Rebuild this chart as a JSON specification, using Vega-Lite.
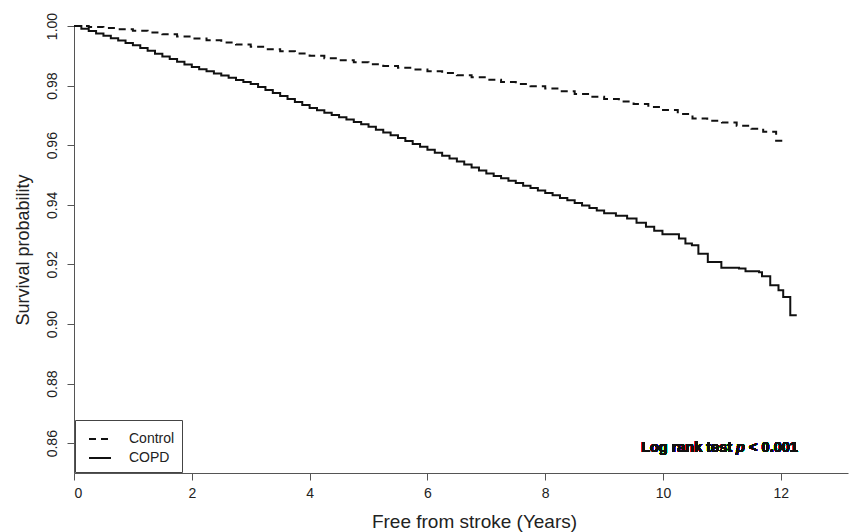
{
  "$schema": "https://vega.github.io/schema/vega-lite/v6.json",
  "autosize": {"type": "none"},
  "padding": {"left": 74, "top": 26, "right": 13, "bottom": 59},
  "width": 774,
  "height": 447,
  "background": "white",
  "config": {
    "view": {"stroke": null},
    "font": "Liberation Sans",
    "axis": {"domainColor": "#555", "tickColor": "#555", "labelColor": "#222", "titleColor": "#222", "grid": false, "labelFont": "Liberation Sans", "titleFont": "Liberation Sans", "titleFontWeight": "normal"}
  },
  "datasets": {
    "surv": [
      {"group": "Control", "t": 0, "s": 1.0},
      {"group": "Control", "t": 0.25, "s": 0.9997},
      {"group": "Control", "t": 0.5, "s": 0.9993},
      {"group": "Control", "t": 0.75, "s": 0.9989},
      {"group": "Control", "t": 1.0, "s": 0.9984},
      {"group": "Control", "t": 1.25, "s": 0.9978},
      {"group": "Control", "t": 1.5, "s": 0.9972},
      {"group": "Control", "t": 1.75, "s": 0.9965},
      {"group": "Control", "t": 2.0, "s": 0.9958},
      {"group": "Control", "t": 2.25, "s": 0.9952},
      {"group": "Control", "t": 2.5, "s": 0.9945},
      {"group": "Control", "t": 2.75, "s": 0.9938},
      {"group": "Control", "t": 3.0, "s": 0.993},
      {"group": "Control", "t": 3.25, "s": 0.9922},
      {"group": "Control", "t": 3.5, "s": 0.9915},
      {"group": "Control", "t": 3.75, "s": 0.9908},
      {"group": "Control", "t": 4.0, "s": 0.99},
      {"group": "Control", "t": 4.25, "s": 0.9892},
      {"group": "Control", "t": 4.5, "s": 0.9885},
      {"group": "Control", "t": 4.75, "s": 0.9878},
      {"group": "Control", "t": 5.0, "s": 0.9872},
      {"group": "Control", "t": 5.25, "s": 0.9866},
      {"group": "Control", "t": 5.5, "s": 0.986},
      {"group": "Control", "t": 5.75, "s": 0.9854},
      {"group": "Control", "t": 6.0, "s": 0.9848},
      {"group": "Control", "t": 6.25, "s": 0.9842},
      {"group": "Control", "t": 6.5, "s": 0.9835},
      {"group": "Control", "t": 6.75, "s": 0.9828},
      {"group": "Control", "t": 7.0, "s": 0.982},
      {"group": "Control", "t": 7.25, "s": 0.9812},
      {"group": "Control", "t": 7.5, "s": 0.9805},
      {"group": "Control", "t": 7.75, "s": 0.9798},
      {"group": "Control", "t": 8.0, "s": 0.979},
      {"group": "Control", "t": 8.25, "s": 0.9781},
      {"group": "Control", "t": 8.5, "s": 0.9772},
      {"group": "Control", "t": 8.75, "s": 0.9763},
      {"group": "Control", "t": 9.0, "s": 0.9755},
      {"group": "Control", "t": 9.25, "s": 0.9747},
      {"group": "Control", "t": 9.5, "s": 0.9738},
      {"group": "Control", "t": 9.75, "s": 0.9728},
      {"group": "Control", "t": 10.0, "s": 0.9718},
      {"group": "Control", "t": 10.25, "s": 0.9705},
      {"group": "Control", "t": 10.5, "s": 0.969},
      {"group": "Control", "t": 10.75, "s": 0.9682},
      {"group": "Control", "t": 11.0, "s": 0.9676},
      {"group": "Control", "t": 11.25, "s": 0.9665},
      {"group": "Control", "t": 11.5, "s": 0.9655},
      {"group": "Control", "t": 11.7, "s": 0.9645},
      {"group": "Control", "t": 11.92, "s": 0.9615},
      {"group": "Control", "t": 12.07, "s": 0.9615},
      {"group": "COPD", "t": 0, "s": 1.0},
      {"group": "COPD", "t": 0.125, "s": 0.9991},
      {"group": "COPD", "t": 0.25, "s": 0.9983},
      {"group": "COPD", "t": 0.375, "s": 0.9975},
      {"group": "COPD", "t": 0.5, "s": 0.9967},
      {"group": "COPD", "t": 0.625, "s": 0.9959},
      {"group": "COPD", "t": 0.75, "s": 0.9951},
      {"group": "COPD", "t": 0.875, "s": 0.9943},
      {"group": "COPD", "t": 1.0, "s": 0.9935},
      {"group": "COPD", "t": 1.125, "s": 0.9926},
      {"group": "COPD", "t": 1.25, "s": 0.9917},
      {"group": "COPD", "t": 1.375, "s": 0.9907},
      {"group": "COPD", "t": 1.5, "s": 0.9898},
      {"group": "COPD", "t": 1.625, "s": 0.9889},
      {"group": "COPD", "t": 1.75, "s": 0.988},
      {"group": "COPD", "t": 1.875, "s": 0.9871},
      {"group": "COPD", "t": 2.0, "s": 0.9862},
      {"group": "COPD", "t": 2.125, "s": 0.9855},
      {"group": "COPD", "t": 2.25, "s": 0.9848},
      {"group": "COPD", "t": 2.375, "s": 0.9841},
      {"group": "COPD", "t": 2.5, "s": 0.9834},
      {"group": "COPD", "t": 2.625, "s": 0.9826},
      {"group": "COPD", "t": 2.75, "s": 0.9819},
      {"group": "COPD", "t": 2.875, "s": 0.9812},
      {"group": "COPD", "t": 3.0, "s": 0.9805},
      {"group": "COPD", "t": 3.125, "s": 0.9795},
      {"group": "COPD", "t": 3.25, "s": 0.9785},
      {"group": "COPD", "t": 3.375, "s": 0.9775},
      {"group": "COPD", "t": 3.5, "s": 0.9765},
      {"group": "COPD", "t": 3.625, "s": 0.9755},
      {"group": "COPD", "t": 3.75, "s": 0.9745},
      {"group": "COPD", "t": 3.875, "s": 0.9735},
      {"group": "COPD", "t": 4.0, "s": 0.9725},
      {"group": "COPD", "t": 4.125, "s": 0.9717},
      {"group": "COPD", "t": 4.25, "s": 0.9709},
      {"group": "COPD", "t": 4.375, "s": 0.9701},
      {"group": "COPD", "t": 4.5, "s": 0.9694},
      {"group": "COPD", "t": 4.625, "s": 0.9686},
      {"group": "COPD", "t": 4.75, "s": 0.9678},
      {"group": "COPD", "t": 4.875, "s": 0.967},
      {"group": "COPD", "t": 5.0, "s": 0.9662},
      {"group": "COPD", "t": 5.125, "s": 0.9652},
      {"group": "COPD", "t": 5.25, "s": 0.9643},
      {"group": "COPD", "t": 5.375, "s": 0.9633},
      {"group": "COPD", "t": 5.5, "s": 0.9624},
      {"group": "COPD", "t": 5.625, "s": 0.9614},
      {"group": "COPD", "t": 5.75, "s": 0.9604},
      {"group": "COPD", "t": 5.875, "s": 0.9595},
      {"group": "COPD", "t": 6.0, "s": 0.9585},
      {"group": "COPD", "t": 6.125, "s": 0.9575},
      {"group": "COPD", "t": 6.25, "s": 0.9565},
      {"group": "COPD", "t": 6.375, "s": 0.9555},
      {"group": "COPD", "t": 6.5, "s": 0.9545},
      {"group": "COPD", "t": 6.625, "s": 0.9535},
      {"group": "COPD", "t": 6.75, "s": 0.9525},
      {"group": "COPD", "t": 6.875, "s": 0.9515},
      {"group": "COPD", "t": 7.0, "s": 0.9505},
      {"group": "COPD", "t": 7.125, "s": 0.9497},
      {"group": "COPD", "t": 7.25, "s": 0.9489},
      {"group": "COPD", "t": 7.375, "s": 0.9481},
      {"group": "COPD", "t": 7.5, "s": 0.9473},
      {"group": "COPD", "t": 7.625, "s": 0.9464},
      {"group": "COPD", "t": 7.75, "s": 0.9456},
      {"group": "COPD", "t": 7.875, "s": 0.9448},
      {"group": "COPD", "t": 8.0, "s": 0.944},
      {"group": "COPD", "t": 8.125, "s": 0.9432},
      {"group": "COPD", "t": 8.25, "s": 0.9423},
      {"group": "COPD", "t": 8.375, "s": 0.9415},
      {"group": "COPD", "t": 8.5, "s": 0.9406},
      {"group": "COPD", "t": 8.625, "s": 0.9398},
      {"group": "COPD", "t": 8.75, "s": 0.9389},
      {"group": "COPD", "t": 8.875, "s": 0.9381},
      {"group": "COPD", "t": 9.0, "s": 0.9372},
      {"group": "COPD", "t": 9.2, "s": 0.9363},
      {"group": "COPD", "t": 9.39, "s": 0.9354},
      {"group": "COPD", "t": 9.55, "s": 0.934},
      {"group": "COPD", "t": 9.71, "s": 0.9326},
      {"group": "COPD", "t": 9.85, "s": 0.9313},
      {"group": "COPD", "t": 9.99, "s": 0.9301},
      {"group": "COPD", "t": 10.27, "s": 0.9287},
      {"group": "COPD", "t": 10.38, "s": 0.927},
      {"group": "COPD", "t": 10.49, "s": 0.9264},
      {"group": "COPD", "t": 10.6, "s": 0.9236},
      {"group": "COPD", "t": 10.76, "s": 0.9208},
      {"group": "COPD", "t": 10.99, "s": 0.9189},
      {"group": "COPD", "t": 11.29, "s": 0.9186},
      {"group": "COPD", "t": 11.4, "s": 0.9177},
      {"group": "COPD", "t": 11.63, "s": 0.9174},
      {"group": "COPD", "t": 11.68, "s": 0.916},
      {"group": "COPD", "t": 11.82, "s": 0.913},
      {"group": "COPD", "t": 11.96, "s": 0.9113},
      {"group": "COPD", "t": 12.04, "s": 0.9091},
      {"group": "COPD", "t": 12.16, "s": 0.9029},
      {"group": "COPD", "t": 12.27, "s": 0.9029}
    ]
  },
  "data": {"name": "surv"},
  "layer": [
    {
      "mark": {"type": "line", "interpolate": "step-after", "color": "#111", "strokeWidth": 2},
      "encoding": {
        "x": {"field": "t", "type": "quantitative", "scale": {"domain": [0, 13.14], "nice": false},
          "axis": {"values": [0, 2, 4, 6, 8, 10, 12], "format": "d", "tickSize": 7, "labelFontSize": 14, "labelPadding": 6, "title": "Free from stroke (Years)", "titleFontSize": 19, "titlePadding": 12, "titleX": 400}},
        "y": {"field": "s", "type": "quantitative", "scale": {"domain": [0.85, 1.0], "nice": false, "zero": false},
          "axis": {"values": [0.86, 0.88, 0.9, 0.92, 0.94, 0.96, 0.98, 1.0], "format": ".2f", "tickSize": 7, "labelFontSize": 14, "labelAngle": -90, "labelAlign": "center", "labelBaseline": "bottom", "labelPadding": 8, "title": "Survival probability", "titleFontSize": 18, "titlePadding": 13}},
        "strokeDash": {"field": "group", "type": "nominal", "scale": {"domain": ["Control", "COPD"], "range": [[7, 5], [1, 0]]},
          "legend": {"title": null, "orient": "none", "legendX": 1, "legendY": 394, "strokeColor": "#444", "fillColor": "white", "padding": 7, "cornerRadius": 0, "symbolType": "stroke", "symbolSize": 484, "symbolOffset": 6, "symbolStrokeWidth": 2, "symbolStrokeColor": "#111", "labelFontSize": 14, "labelOffset": 17, "labelColor": "#222", "rowPadding": -6}}
      }
    },
    {
      "mark": {"type": "text", "align": "right", "baseline": "alphabetic", "fontSize": 14.5, "fontWeight": "bold", "color": "#111", "dx": -4},
      "encoding": {"x": {"datum": 11.24}, "y": {"datum": 0.857}, "text": {"value": "Log rank test"}}
    },
    {
      "mark": {"type": "text", "align": "left", "baseline": "alphabetic", "fontSize": 14.5, "fontWeight": "bold", "fontStyle": "italic", "color": "#111"},
      "encoding": {"x": {"datum": 11.24}, "y": {"datum": 0.857}, "text": {"value": "p"}}
    },
    {
      "mark": {"type": "text", "align": "left", "baseline": "alphabetic", "fontSize": 14.5, "fontWeight": "bold", "color": "#111", "dx": 13},
      "encoding": {"x": {"datum": 11.24}, "y": {"datum": 0.857}, "text": {"value": "< 0.001"}}
    }
  ]
}
